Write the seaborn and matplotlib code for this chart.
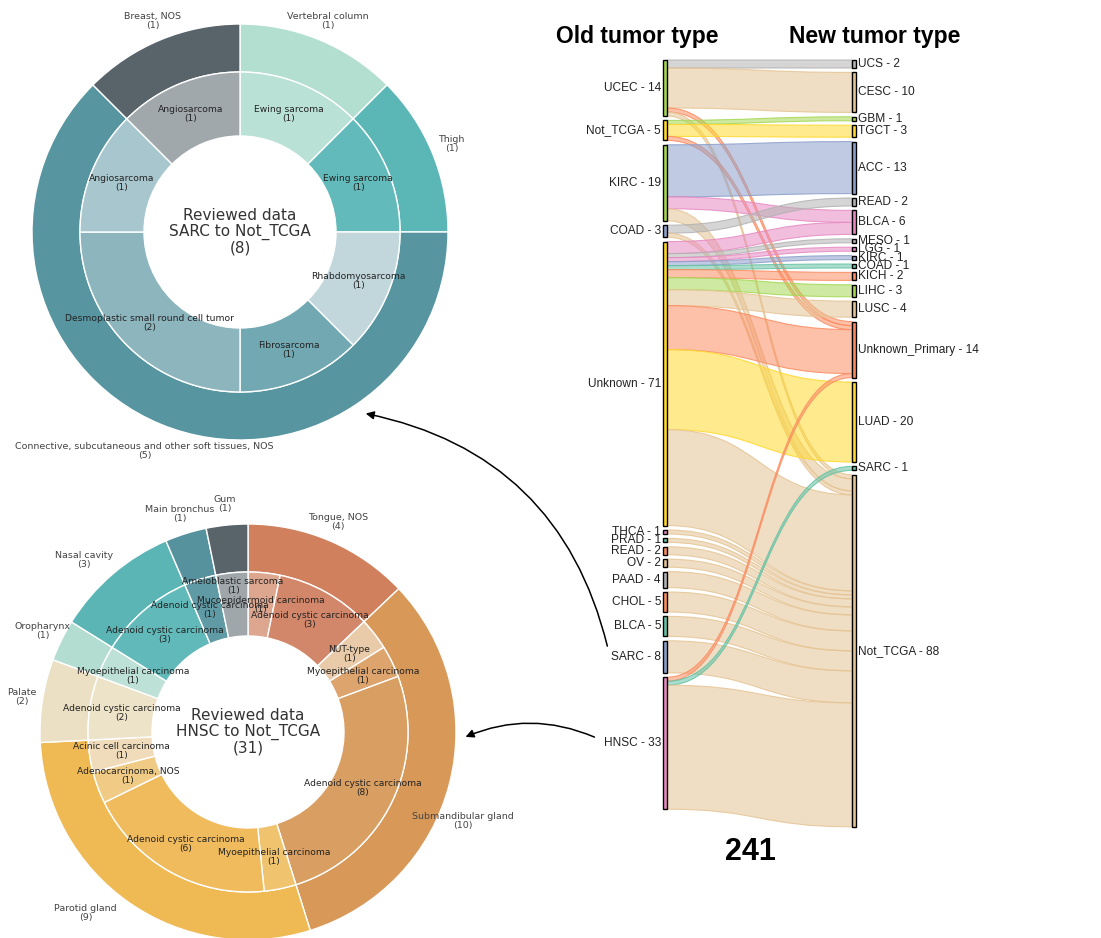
import numpy as np
import matplotlib
matplotlib.use("Agg")
import matplotlib.pyplot as plt
import seaborn as sns
from matplotlib.patches import Rectangle, PathPatch, FancyArrowPatch
from matplotlib.path import Path
from matplotlib.colors import to_rgba

sns.set_theme(style="white")
plt.rcParams['font.family'] = ['DejaVu Sans']

# ---------------- Sankey data ----------------
old_types = ["UCEC", "Not_TCGA", "KIRC", "COAD", "Unknown", "THCA", "PRAD", "READ",
             "OV", "PAAD", "CHOL", "BLCA", "SARC", "HNSC"]
new_types = ["UCS", "CESC", "GBM", "TGCT", "ACC", "READ", "BLCA", "MESO", "LGG", "KIRC",
             "COAD", "KICH", "LIHC", "LUSC", "Unknown_Primary", "LUAD", "SARC", "Not_TCGA"]
link_source = ["UCEC", "UCEC", "UCEC", "UCEC",
               "Not_TCGA", "Not_TCGA", "Not_TCGA",
               "KIRC", "KIRC", "KIRC",
               "COAD", "COAD",
               "Unknown", "Unknown", "Unknown", "Unknown", "Unknown", "Unknown", "Unknown",
               "Unknown", "Unknown", "Unknown", "Unknown",
               "THCA", "PRAD", "READ", "OV", "PAAD", "CHOL", "BLCA", "SARC",
               "HNSC", "HNSC", "HNSC"]
link_target = ["UCS", "CESC", "Unknown_Primary", "Not_TCGA",
               "GBM", "TGCT", "Unknown_Primary",
               "ACC", "BLCA", "Not_TCGA",
               "READ", "Not_TCGA",
               "BLCA", "MESO", "LGG", "KIRC", "COAD", "KICH", "LIHC",
               "LUSC", "Unknown_Primary", "LUAD", "Not_TCGA",
               "Not_TCGA", "Not_TCGA", "Not_TCGA", "Not_TCGA", "Not_TCGA", "Not_TCGA", "Not_TCGA", "Not_TCGA",
               "Unknown_Primary", "SARC", "Not_TCGA"]
link_value = [2, 10, 1, 1,
              1, 3, 1,
              13, 3, 3,
              2, 1,
              3, 1, 1, 1, 1, 2, 3,
              4, 11, 20, 24,
              1, 1, 2, 2, 4, 5, 5, 8,
              1, 1, 31]
total_samples = 241

# Set2 palette index per node
old_color_idx = [4, 5, 4, 2, 5, 3, 0, 1, 6, 7, 1, 0, 2, 3]
new_color_idx = [7, 6, 4, 5, 2, 7, 3, 7, 3, 2, 0, 1, 4, 6, 1, 5, 0, 6]

# ---------------- Sunburst data ----------------
sarc_sites = ["Vertebral column", "Thigh", "Connective, subcutaneous and other soft tissues, NOS", "Breast, NOS"]
sarc_site_counts = [1, 1, 5, 1]
sarc_hist = ["Ewing sarcoma", "Ewing sarcoma", "Rhabdomyosarcoma", "Fibrosarcoma",
             "Desmoplastic small round cell tumor", "Angiosarcoma", "Angiosarcoma"]
sarc_hist_counts = [1, 1, 1, 1, 2, 1, 1]

hnsc_sites = ["Tongue, NOS", "Submandibular gland", "Parotid gland", "Palate", "Oropharynx",
              "Nasal cavity", "Main bronchus", "Gum"]
hnsc_site_counts = [4, 10, 9, 2, 1, 3, 1, 1]
hnsc_hist = ["Mucoepidermoid carcinoma", "Adenoid cystic carcinoma", "NUT-type",
             "Myoepithelial carcinoma", "Adenoid cystic carcinoma", "Myoepithelial carcinoma",
             "Adenoid cystic carcinoma", "Adenocarcinoma, NOS", "Acinic cell carcinoma",
             "Adenoid cystic carcinoma", "Myoepithelial carcinoma", "Adenoid cystic carcinoma",
             "Adenoid cystic carcinoma", "Ameloblastic sarcoma"]
hnsc_hist_counts = [1, 3, 1, 1, 8, 1, 6, 1, 1, 2, 1, 3, 1, 1]

sarc_site_colors = ["#B3DFD0", "#5BB6B6", "#5796A0", "#58636A"]
sarc_hist_colors = ["#B9E1D5", "#63BABA", "#C2D7DC", "#71A8B1", "#8DB5BD", "#A7C6CD", "#A0A8AC"]
hnsc_site_colors = ["#D0805D", "#D89858", "#EFB954", "#EBE0C3", "#B3DDD0", "#5BB5B5", "#55929E", "#58636A"]
hnsc_hist_colors = ["#DCA68F", "#D3876A", "#EACBA9", "#DDA46D", "#D99E61", "#F0C46F", "#EFBB5C",
                    "#F0CB86", "#F0DCBA", "#EDE3C9", "#BDE1D6", "#62B9BA", "#5F9AA5", "#A0A7AB"]

# ---------------- figure ----------------
W, H = 1101, 938
fig = plt.figure(figsize=(W / 100, H / 100), dpi=100)
fig.patch.set_facecolor("white")

pal = sns.color_palette("Set2", 8)
TXT = "#444444"


def donut(cx, cy, sites, site_counts, site_colors, hist, hist_counts, hist_colors, title,
          outer_tweak, inner_tweak):
    R = 208.0
    half = 250.0
    ax = fig.add_axes([(cx - half) / W, (H - cy - half) / H, 2 * half / W, 2 * half / H])
    r_in_outer = 160.0 / R
    r_hole = 96.0 / R
    ax.pie(site_counts, radius=1.0, startangle=90, counterclock=False, colors=site_colors,
           wedgeprops=dict(width=1.0 - r_in_outer, edgecolor="white", linewidth=1.0))
    ax.pie(hist_counts, radius=r_in_outer, startangle=90, counterclock=False, colors=hist_colors,
           wedgeprops=dict(width=r_in_outer - r_hole, edgecolor="white", linewidth=1.0))
    lim = half / R
    ax.set_xlim(-lim, lim)
    ax.set_ylim(-lim, lim)
    ax.set_aspect("equal")
    ax.axis("off")
    # outer labels
    tot = float(sum(site_counts))
    cum = np.cumsum([0] + list(site_counts))
    for i, (lab, c) in enumerate(zip(sites, site_counts)):
        mid = (cum[i] + cum[i + 1]) / 2 / tot * 360.0
        da, dr = outer_tweak.get(lab, (0.0, 0.0))
        a = np.deg2rad(mid + da)
        r = 1.1 + dr
        ax.text(r * np.sin(a), r * np.cos(a), f"{lab}\n({c})", ha="center", va="center",
                fontsize=6.8, color=TXT, linespacing=1.0)
    # inner labels
    tot = float(sum(hist_counts))
    cum = np.cumsum([0] + list(hist_counts))
    rm = (r_in_outer + r_hole) / 2
    for i, (lab, c) in enumerate(zip(hist, hist_counts)):
        mid = (cum[i] + cum[i + 1]) / 2 / tot * 360.0
        dr = inner_tweak.get(i, 0.0)
        a = np.deg2rad(mid)
        r = rm + dr
        ax.text(r * np.sin(a), r * np.cos(a), f"{lab}\n({c})", ha="center", va="center",
                fontsize=6.6, color="#222222", linespacing=1.0)
    ax.text(0, 0, title, ha="center", va="center", fontsize=11, color="#333333", linespacing=1.05)


donut(240, 232, sarc_sites, sarc_site_counts, sarc_site_colors,
      sarc_hist, sarc_hist_counts, sarc_hist_colors,
      f"Reviewed data\nSARC to Not_TCGA\n({sum(sarc_site_counts)})",
      {"Connective, subcutaneous and other soft tissues, NOS": (1.0, 0.05)}, {})
donut(248, 732, hnsc_sites, hnsc_site_counts, hnsc_site_colors,
      hnsc_hist, hnsc_hist_counts, hnsc_hist_colors,
      f"Reviewed data\nHNSC to Not_TCGA\n({sum(hnsc_site_counts)})",
      {"Submandibular gland": (8.0, 0.02), "Parotid gland": (7.0, 0.07),
       "Nasal cavity": (-3.0, 0.04)},
      {13: 0.09})

# ---------------- Sankey (pixel coordinate overlay) ----------------
ax = fig.add_axes([0, 0, 1, 1])
ax.set_xlim(0, W)
ax.set_ylim(H, 0)
ax.axis("off")
ax.patch.set_alpha(0)

scale = 4.0      # px per unit
pad = 4.4        # px between nodes
top = 60.0
xl0, xl1 = 663.0, 667.0
xr0, xr1 = 852.0, 856.0

old_tot = {n: 0 for n in old_types}
new_tot = {n: 0 for n in new_types}
for s, t, v in zip(link_source, link_target, link_value):
    old_tot[s] += v
    new_tot[t] += v


def place(names, totals):
    pos = {}
    y = top
    for n in names:
        pos[n] = y
        y += totals[n] * scale + pad
    return pos


old_y = place(old_types, old_tot)
new_y = place(new_types, new_tot)

links = list(zip(link_source, link_target, link_value))
src_off = {}
for n in old_types:
    off = old_y[n]
    for k in sorted([k for k, l in enumerate(links) if l[0] == n], key=lambda k: new_types.index(links[k][1])):
        src_off[k] = off
        off += links[k][2] * scale
tgt_off = {}
for n in new_types:
    off = new_y[n]
    for k in sorted([k for k, l in enumerate(links) if l[1] == n], key=lambda k: old_types.index(links[k][0])):
        tgt_off[k] = off
        off += links[k][2] * scale

xm = (xl1 + xr0) / 2
for k, (s, t, v) in enumerate(links):
    h = v * scale
    y0, y1 = src_off[k], tgt_off[k]
    verts = [(xl1, y0), (xm, y0), (xm, y1), (xr0, y1),
             (xr0, y1 + h),
             (xm, y1 + h), (xm, y0 + h), (xl1, y0 + h),
             (xl1, y0)]
    codes = [Path.MOVETO, Path.CURVE4, Path.CURVE4, Path.CURVE4,
             Path.LINETO,
             Path.CURVE4, Path.CURVE4, Path.CURVE4,
             Path.CLOSEPOLY]
    col = pal[new_color_idx[new_types.index(t)]]
    ax.add_patch(PathPatch(Path(verts, codes), facecolor=to_rgba(col, 0.55),
                           edgecolor=to_rgba(col, 0.85), linewidth=0.8))

for i, n in enumerate(old_types):
    hh = old_tot[n] * scale
    ax.add_patch(Rectangle((xl0, old_y[n]), xl1 - xl0, hh, facecolor=pal[old_color_idx[i]],
                           edgecolor="black", linewidth=1.0))
    ax.text(xl0 - 2, old_y[n] + hh / 2, f"{n} - {old_tot[n]}", ha="right", va="center",
            fontsize=8.6, family="Liberation Sans", color="#222222")
for i, n in enumerate(new_types):
    hh = new_tot[n] * scale
    ax.add_patch(Rectangle((xr0, new_y[n]), xr1 - xr0, hh, facecolor=pal[new_color_idx[i]],
                           edgecolor="black", linewidth=1.0))
    ax.text(xr1 + 2, new_y[n] + hh / 2, f"{n} - {new_tot[n]}", ha="left", va="center",
            fontsize=8.6, family="Liberation Sans", color="#222222")

ax.text(637, 36, "Old tumor type", ha="center", va="center", fontsize=16.5,
        fontweight="bold", family="Liberation Sans", color="black")
ax.text(875, 36, "New tumor type", ha="center", va="center", fontsize=16.5,
        fontweight="bold", family="Liberation Sans", color="black")
ax.text(750, 852, f"{total_samples}", ha="center", va="center", fontsize=22,
        fontweight="bold", family="Liberation Sans", color="black")

# arrows from sankey labels to the sunbursts
sarc_lab_y = old_y["SARC"] + old_tot["SARC"] * scale / 2
hnsc_lab_y = old_y["HNSC"] + old_tot["HNSC"] * scale / 2
ax.add_patch(FancyArrowPatch((608, sarc_lab_y - 8), (363, 413),
                             connectionstyle="arc3,rad=0.32", arrowstyle="-|>",
                             mutation_scale=12, color="black", linewidth=1.1))
ax.add_patch(FancyArrowPatch((597, hnsc_lab_y - 5), (463, 738),
                             connectionstyle="arc3,rad=0.22", arrowstyle="-|>",
                             mutation_scale=12, color="black", linewidth=1.1))

fig.savefig("out.png", dpi=100, facecolor="white")
